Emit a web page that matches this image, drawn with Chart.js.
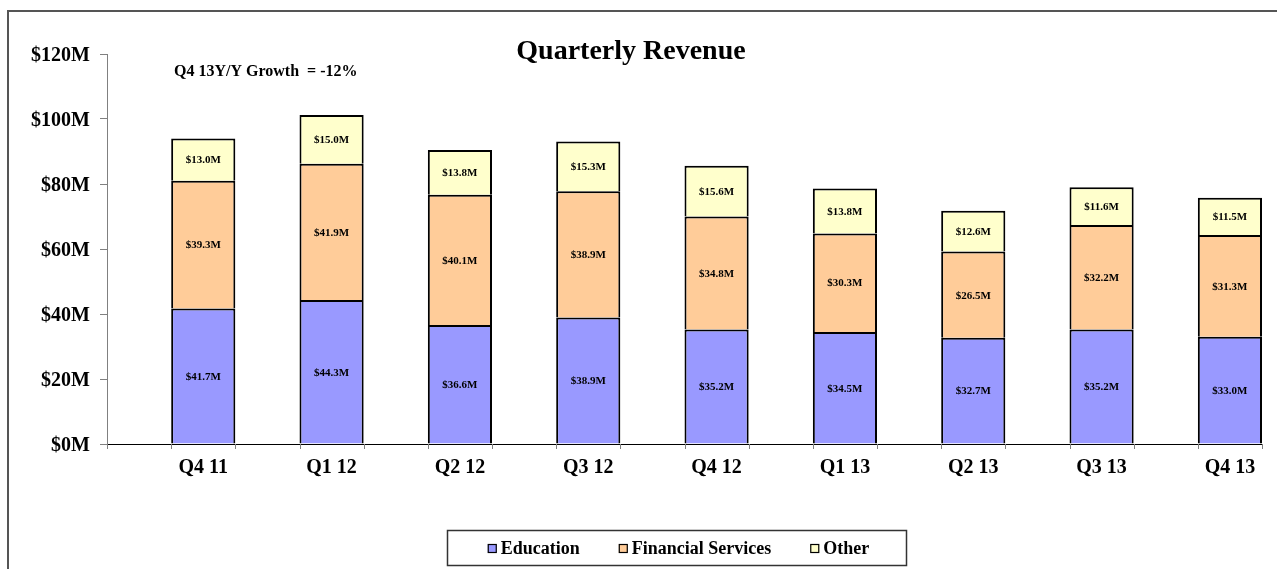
<!DOCTYPE html>
<html>
<head>
<meta charset="utf-8">
<script src="https://cdn.jsdelivr.net/npm/chart.js@4.4.1/dist/chart.umd.min.js"></script>
<style>
html,body{margin:0;padding:0;background:#fff;}
#wrap{width:1277px;height:569px;position:relative;}
</style>
</head>
<body>
<div id="wrap"><canvas id="c"></canvas></div>
<script>
const categories = ['Q4 11','Q1 12','Q2 12','Q3 12','Q4 12','Q1 13','Q2 13','Q3 13','Q4 13'];
const education = [41.7, 44.3, 36.6, 38.9, 35.2, 34.5, 32.7, 35.2, 33.0];
const financial = [39.3, 41.9, 40.1, 38.9, 34.8, 30.3, 26.5, 32.2, 31.3];
const other = [13.0, 15.0, 13.8, 15.3, 15.6, 13.8, 12.6, 11.6, 11.5];
const yTicks = [0, 20, 40, 60, 80, 100, 120];
const titleText = 'Quarterly Revenue';
const noteText = 'Q4 13Y/Y Growth  = -12%';

const SERIF = "'Liberation Serif', 'Times New Roman', serif";
const toPts = arr => arr.map((v, i) => ({x: i, y: v}));

const decorPlugin = {
  id: 'decor',
  beforeDraw(chart) {
    const ctx = chart.ctx;
    ctx.save();
    ctx.fillStyle = '#fff';
    ctx.fillRect(0, 0, chart.width, chart.height);
    ctx.strokeStyle = '#555';
    ctx.lineWidth = 2;
    ctx.strokeRect(8, 11, 1400, 700);
    ctx.restore();
  },
  afterDatasetsDraw(chart) {
    const ctx = chart.ctx;
    ctx.save();
    ctx.font = 'bold 11px ' + SERIF;
    ctx.fillStyle = '#000';
    ctx.textAlign = 'center';
    ctx.textBaseline = 'middle';
    chart.data.datasets.forEach((ds, di) => {
      const meta = chart.getDatasetMeta(di);
      meta.data.forEach((el, i) => {
        const p = el.getProps(['x', 'y', 'base'], true);
        const v = ds.data[i].y;
        ctx.fillText('$' + v.toFixed(1) + 'M', p.x, (p.y + p.base) / 2 + 1);
      });
    });
    const xs = chart.scales.x;
    const bottom = chart.chartArea.bottom;
    ctx.strokeStyle = '#808080';
    ctx.lineWidth = 1;
    for (let k = 0; k <= 18; k++) {
      const px = Math.round(xs.getPixelForValue(-0.75 + 0.5 * k)) + 0.5;
      ctx.beginPath();
      ctx.moveTo(px, bottom);
      ctx.lineTo(px, bottom + 5);
      ctx.stroke();
    }
    ctx.restore();
  },
  afterDraw(chart) {
    const ctx = chart.ctx;
    ctx.save();
    ctx.fillStyle = '#000';
    ctx.textBaseline = 'alphabetic';
    ctx.font = 'bold 28px ' + SERIF;
    ctx.textAlign = 'center';
    ctx.fillText(titleText, 631, 59);
    ctx.font = 'bold 16px ' + SERIF;
    ctx.textAlign = 'left';
    ctx.fillText(noteText, 174, 76);
    const bx = 447, by = 530, bw = 459, bh = 35;
    ctx.strokeStyle = '#333';
    ctx.lineWidth = 1.5;
    ctx.strokeRect(bx + 0.5, by + 0.5, bw, bh);
    ctx.font = 'bold 18px ' + SERIF;
    const items = chart.data.datasets.map(d => ({label: d.label, color: d.backgroundColor}));
    const sq = 9, gap = 4, itemGap = 39;
    const widths = items.map(it => ctx.measureText(it.label).width);
    let total = widths.reduce((a, b) => a + b, 0) + items.length * (sq + gap) + (items.length - 1) * itemGap;
    let x = bx + bw / 2 - total / 2 + 2;
    items.forEach((it, i) => {
      ctx.fillStyle = it.color;
      ctx.fillRect(x, 544, sq, sq);
      ctx.strokeStyle = '#000';
      ctx.lineWidth = 1.2;
      ctx.strokeRect(x + 0.5, 544.5, sq - 1, sq - 1);
      ctx.fillStyle = '#000';
      ctx.fillText(it.label, x + sq + gap, 554);
      x += sq + gap + widths[i] + itemGap;
    });
    ctx.restore();
  }
};

new Chart(document.getElementById('c'), {
  type: 'bar',
  data: {
    datasets: [
      {label: 'Education', data: toPts(education), backgroundColor: '#9999FF'},
      {label: 'Financial Services', data: toPts(financial), backgroundColor: '#FFCC99'},
      {label: 'Other', data: toPts(other), backgroundColor: '#FFFFCC'}
    ]
  },
  options: {
    responsive: true,
    maintainAspectRatio: false,
    animation: false,
    events: [],
    datasets: {
      bar: {
        borderColor: '#000',
        borderWidth: 2,
        categoryPercentage: 0.5,
        barPercentage: 1.0
      }
    },
    layout: {padding: {left: 7, right: 15, top: 54, bottom: 0}},
    plugins: {legend: {display: false}, tooltip: {enabled: false}, title: {display: false}},
    scales: {
      x: {
        type: 'linear',
        stacked: true,
        offset: false,
        min: -0.75,
        max: 8.25,
        z: 1,
        afterBuildTicks: s => { s.ticks = categories.map((_, i) => ({value: i})); },
        afterFit: s => { s.height = 125; },
        grid: {display: true, offset: false, drawOnChartArea: false, drawTicks: false},
        border: {display: true, color: '#000', width: 1},
        ticks: {
          padding: 12,
          autoSkip: false,
          maxRotation: 0,
          color: '#000',
          font: {family: SERIF, size: 20, weight: 'bold'},
          callback: v => categories[v]
        }
      },
      y: {
        stacked: true,
        min: 0,
        max: 120,
        afterBuildTicks: s => { s.ticks = yTicks.map(v => ({value: v})); },
        afterFit: s => { s.width = 100; },
        grid: {display: true, drawOnChartArea: false, drawTicks: true, tickLength: 7, color: '#808080'},
        border: {display: true, color: '#808080', width: 1},
        ticks: {
          padding: 10,
          labelOffset: 2,
          color: '#000',
          font: {family: SERIF, size: 20, weight: 'bold'},
          callback: v => '$' + v + 'M'
        }
      }
    }
  },
  plugins: [decorPlugin]
});
</script>
</body>
</html>
